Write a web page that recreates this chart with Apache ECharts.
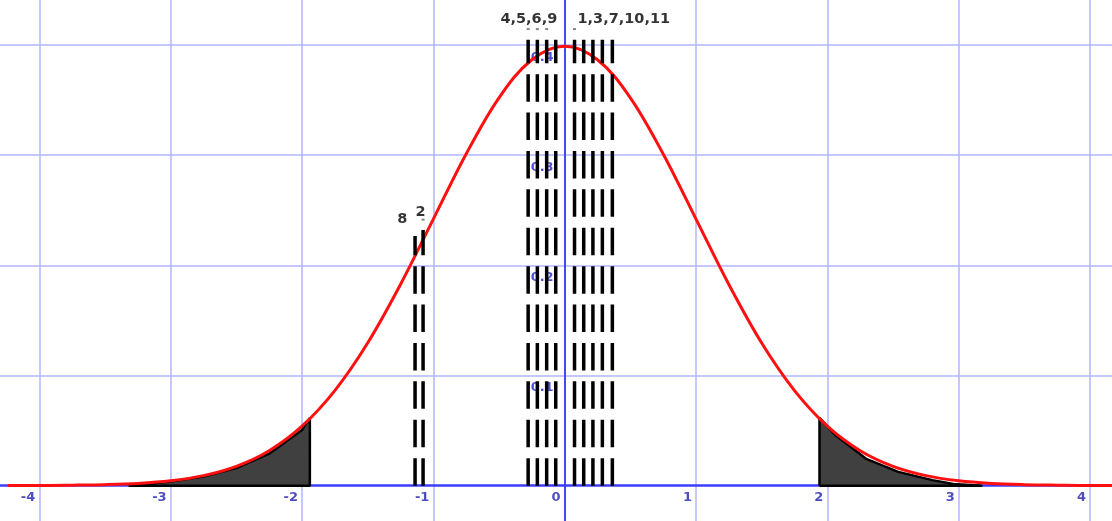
<!DOCTYPE html>
<html><head><meta charset="utf-8">
<script src="https://cdn.jsdelivr.net/npm/echarts@6/dist/echarts.min.js"></script>
<style>html,body{margin:0;padding:0;background:#fff}#c{width:1112px;height:521px}</style>
</head><body><div id="c"></div>
<script>
// axis ticks
const xTicks = [-4, -3, -2, -1, 0, 1, 2, 3, 4];
const yTicks = [0.1, 0.2, 0.3, 0.4];
const xTickLabels = ['-4', '-3', '-2', '-1', '0', '1', '2', '3', '4'];
const yTickLabels = ['0.1', '0.2', '0.3', '0.4'];

// red curve
const curveX = [-4.24, -4.0, -3.75, -3.5, -3.25, -3.0, -2.75, -2.5, -2.25, -2.0, -1.75, -1.5, -1.25, -1.0, -0.75, -0.5, -0.25, 0,
                0.25, 0.5, 0.75, 1.0, 1.25, 1.5, 1.75, 2.0, 2.25, 2.5, 2.75, 3.0, 3.25, 3.5, 3.75, 4.0, 4.17];
const curveY = [0.0001, 0.0001, 0.0004, 0.0009, 0.0020, 0.0044, 0.0091, 0.0175, 0.0317, 0.0540, 0.0863, 0.1295, 0.1826, 0.2420, 0.3011, 0.3521, 0.3867, 0.3989,
                0.3867, 0.3521, 0.3011, 0.2420, 0.1826, 0.1295, 0.0863, 0.0540, 0.0317, 0.0175, 0.0091, 0.0044, 0.0020, 0.0009, 0.0004, 0.0001, 0.0001];

// shaded tails
const leftTailX = [-3.32, -3.0, -2.75, -2.5, -2.25, -2.0, -1.94, -1.94, -3.32];
const leftTailY = [0, 0.0037, 0.0082, 0.0160, 0.0290, 0.0505, 0.0615, 0, 0];
const rightTailX = [1.94, 1.94, 2.06, 2.3, 2.54, 2.8, 2.96, 3.18, 1.94];
const rightTailY = [0, 0.0615, 0.0460, 0.0240, 0.0125, 0.0050, 0.0015, 0, 0];

// dashed vertical lines
const lineX = [-1.139, -1.078, -0.278, -0.208, -0.137, -0.068, 0.075, 0.145, 0.215, 0.287, 0.363];
const lineTop = [0.2266, 0.2321, 0.4047, 0.4047, 0.4047, 0.4047, 0.4047, 0.4047, 0.4047, 0.4047, 0.4047];

// group labels
const groupLabels = ['8', '2', '4,5,6,9', '1,3,7,10,11'];
const groupLabelX = [-1.236, -1.0975, -0.2726, 0.45];
const groupLabelY = [0.2415, 0.2484, 0.4234, 0.4234];

// tiny marks under labels
const markX = [-1.078, -0.278, -0.208, -0.137, 0.075];
const markY = [0.2415, 0.4145, 0.4145, 0.4145, 0.4145];

const zip = (a, b) => a.map((v, i) => [v, b[i]]);

const chart = echarts.init(document.getElementById('c'), null, {renderer: 'canvas'});

const tailStyle = (xs, ys) => ({
  type: 'line', data: zip(xs, ys), showSymbol: false, symbol: 'none', z: 3,
  lineStyle: {color: '#000', width: 2.5},
  areaStyle: {color: '#404040', opacity: 1},
  silent: true
});

const tickLabelStyle = {
  show: true, position: 'inside', formatter: p => p.name,
  fontFamily: 'DejaVu Sans', fontWeight: 'bold', fontSize: 13, align: 'right', verticalAlign: 'top',
  textBorderWidth: 0, textBorderColor: 'transparent', textShadowBlur: 0
};

const series = [
  {
    type: 'scatter', symbolSize: 0, z: 1, silent: true,
    data: xTicks.map((v, i) => ({name: xTickLabels[i], value: [v, 0]})),
    label: Object.assign({}, tickLabelStyle, {color: '#2020b0', offset: [-4, 5]})
  },
  {
    type: 'scatter', symbolSize: 0, z: 1, silent: true,
    data: yTicks.map((v, i) => ({name: yTickLabels[i], value: [0, v]})),
    label: Object.assign({}, tickLabelStyle, {color: '#2424d0', offset: [-11, 6]})
  },
  tailStyle(leftTailX, leftTailY),
  tailStyle(rightTailX, rightTailY),
  {
    type: 'line', data: zip(curveX, curveY), smooth: 0.35, showSymbol: false, symbol: 'none', z: 4,
    lineStyle: {color: '#ff1010', width: 3}
  }
];
lineX.forEach((x, i) => {
  series.push({
    type: 'line', data: [[x, 0], [x, lineTop[i]]], showSymbol: false, symbol: 'none', z: 5,
    lineStyle: {color: '#000', width: 3.5, type: [27.5, 10.9], cap: 'butt'}
  });
});
series.push({
  type: 'scatter', symbol: 'rect', symbolSize: [3, 2], z: 6,
  itemStyle: {color: '#666'},
  data: zip(markX, markY)
});
series.push({
  type: 'scatter', symbolSize: 0, z: 7,
  data: groupLabels.map((t, i) => ({name: t, value: [groupLabelX[i], groupLabelY[i]]})),
  label: {
    show: true, position: 'inside', formatter: p => p.name,
    color: '#000', fontFamily: 'DejaVu Sans', fontWeight: 'bold', fontSize: 14.5,
    textBorderWidth: 0, textBorderColor: 'transparent', textShadowBlur: 0
  }
});

chart.setOption({
  animation: false,
  backgroundColor: '#fff',
  grid: {left: 0, right: 0, top: 0, bottom: 0, containLabel: false, outerBoundsMode: 'none'},
  xAxis: {
    type: 'value', min: -4.299, max: 4.167,
    axisLine: {show: true, onZero: true, lineStyle: {color: '#3c3cff', width: 2.5}},
    axisTick: {show: false, customValues: xTicks},
    axisLabel: {show: false},
    splitLine: {show: true, lineStyle: {color: '#b4b4ff', width: 1.5}}
  },
  yAxis: {
    type: 'value', min: -0.0321, max: 0.4409,
    axisLine: {show: true, onZero: true, lineStyle: {color: '#4646ff', width: 2}},
    axisTick: {show: false, customValues: yTicks},
    axisLabel: {show: false},
    splitLine: {show: true, lineStyle: {color: '#b4b4ff', width: 1.5}}
  },
  series: series
});
</script>
</body></html>
